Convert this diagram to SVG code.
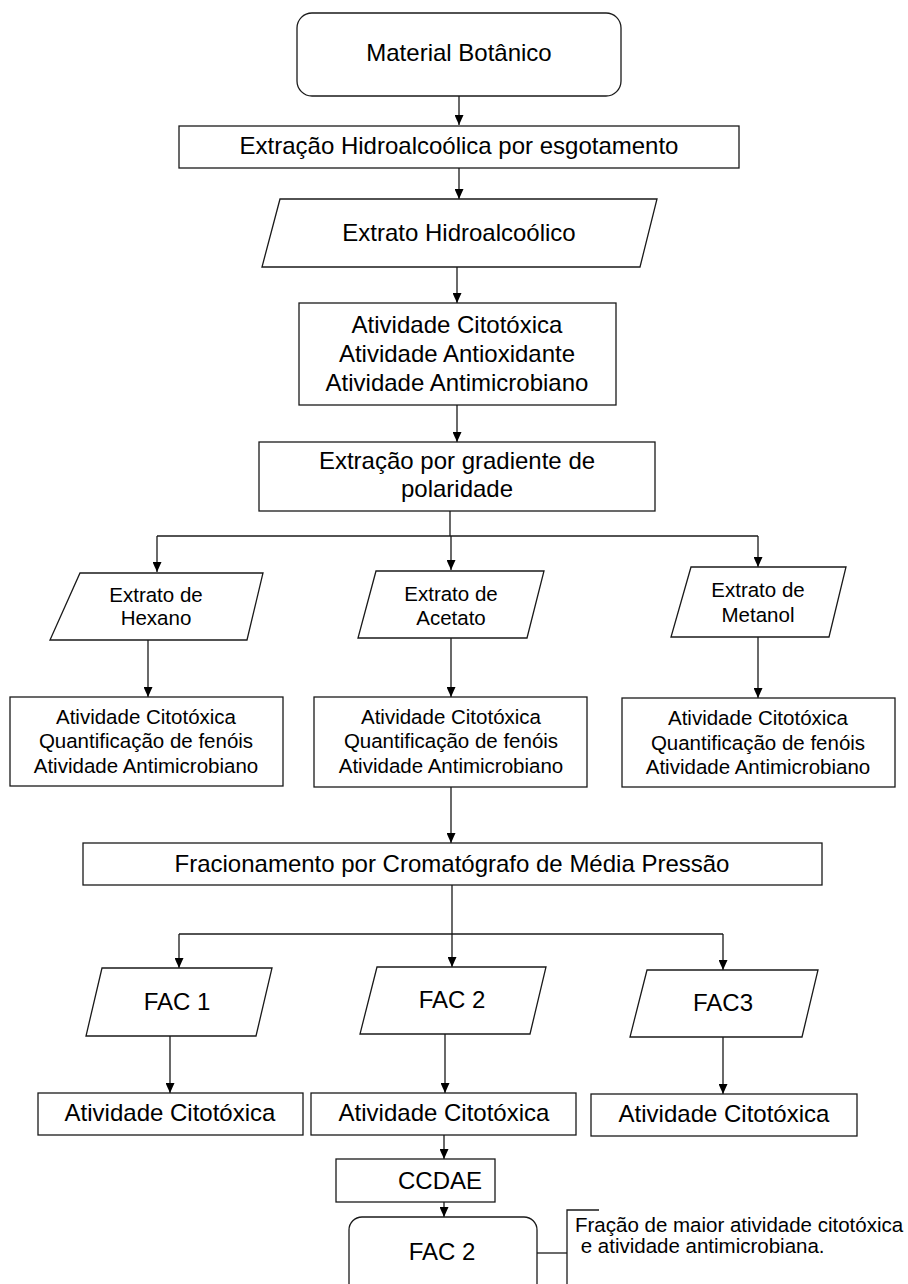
<svg xmlns="http://www.w3.org/2000/svg" width="908" height="1284" viewBox="0 0 908 1284">
<style>
.box{fill:#fff;stroke:#1a1a1a;stroke-width:1.3}
.t{font-family:"Liberation Sans",Arial,sans-serif;fill:#000;text-anchor:middle}
.L{font-size:24px}
.S{font-size:20.5px}
.con path{fill:none;stroke:#1a1a1a;stroke-width:1.3}
</style>
<defs>
<marker id="ah" markerUnits="userSpaceOnUse" markerWidth="10" markerHeight="9" refX="10" refY="4.5" orient="auto">
<path d="M0,0 L10,4.5 L0,9 z" fill="#000"/>
</marker>
</defs>
<rect width="908" height="1284" fill="#fff"/>
<g class="con">
<path d="M459,96 V125" marker-end="url(#ah)"/>
<path d="M459,168 V199" marker-end="url(#ah)"/>
<path d="M457,267 V303" marker-end="url(#ah)"/>
<path d="M457,405 V442" marker-end="url(#ah)"/>
<path d="M450,511 V536"/>
<path d="M157,536 H758"/>
<path d="M157,536 V572" marker-end="url(#ah)"/>
<path d="M451,536 V570" marker-end="url(#ah)"/>
<path d="M758,536 V567" marker-end="url(#ah)"/>
<path d="M148,640 V697" marker-end="url(#ah)"/>
<path d="M451,638 V697" marker-end="url(#ah)"/>
<path d="M758,637 V698" marker-end="url(#ah)"/>
<path d="M451,787 V843" marker-end="url(#ah)"/>
<path d="M452,885 V967" marker-end="url(#ah)"/>
<path d="M179,934 H723"/>
<path d="M179,934 V968" marker-end="url(#ah)"/>
<path d="M723,934 V970" marker-end="url(#ah)"/>
<path d="M170,1036 V1093" marker-end="url(#ah)"/>
<path d="M445,1034 V1093" marker-end="url(#ah)"/>
<path d="M723,1037 V1094" marker-end="url(#ah)"/>
<path d="M444,1135 V1159" marker-end="url(#ah)"/>
<path d="M444,1202 V1217" marker-end="url(#ah)"/>
<path d="M537,1253 H567"/>
<path d="M599,1210 H567 V1284"/>
</g>
<g id="material">
<rect class="box" x="297" y="13" width="324" height="83" rx="15"/>
<text class="t L" x="459" y="61">Material Botânico</text>
</g>
<g id="extracao-hidro">
<rect class="box" x="179" y="126" width="560" height="42"/>
<text class="t L" x="459" y="154">Extração Hidroalcoólica por esgotamento</text>
</g>
<g id="extrato-hidro">
<polygon class="box" points="280,199 657,199 640,267 262,267"/>
<text class="t L" x="459" y="241">Extrato Hidroalcoólico</text>
</g>
<g id="atividades">
<rect class="box" x="299" y="303" width="317" height="102"/>
<text class="t L" x="457" y="333">Atividade Citotóxica</text>
<text class="t L" x="457" y="362">Atividade Antioxidante</text>
<text class="t L" x="457" y="391">Atividade Antimicrobiano</text>
</g>
<g id="gradiente">
<rect class="box" x="259" y="442" width="396" height="69"/>
<text class="t L" x="457" y="469">Extração por gradiente de</text>
<text class="t L" x="457" y="497">polaridade</text>
</g>
<g id="hexano">
<polygon class="box" points="80,573 263,573 247,640 50,640"/>
<text class="t S" x="156" y="602">Extrato de</text>
<text class="t S" x="156" y="625">Hexano</text>
</g>
<g id="acetato">
<polygon class="box" points="376,571 544,571 527,638 358,638"/>
<text class="t S" x="451" y="601">Extrato de</text>
<text class="t S" x="451" y="625">Acetato</text>
</g>
<g id="metanol">
<polygon class="box" points="691,567 846,567 829,637 671,637"/>
<text class="t S" x="758" y="597">Extrato de</text>
<text class="t S" x="758" y="622">Metanol</text>
</g>
<g id="hexano-ativ">
<rect class="box" x="10" y="697" width="273" height="89"/>
<text class="t S" x="146" y="724">Atividade Citotóxica</text>
<text class="t S" x="146" y="748">Quantificação de fenóis</text>
<text class="t S" x="146" y="773">Atividade Antimicrobiano</text>
</g>
<g id="acetato-ativ">
<rect class="box" x="314" y="697" width="273" height="90"/>
<text class="t S" x="451" y="724">Atividade Citotóxica</text>
<text class="t S" x="451" y="748">Quantificação de fenóis</text>
<text class="t S" x="451" y="773">Atividade Antimicrobiano</text>
</g>
<g id="metanol-ativ">
<rect class="box" x="622" y="698" width="273" height="89"/>
<text class="t S" x="758" y="725">Atividade Citotóxica</text>
<text class="t S" x="758" y="750">Quantificação de fenóis</text>
<text class="t S" x="758" y="774">Atividade Antimicrobiano</text>
</g>
<g id="fracionamento">
<rect class="box" x="83" y="843" width="739" height="42"/>
<text class="t L" x="452" y="872">Fracionamento por Cromatógrafo de Média Pressão</text>
</g>
<g id="fac1">
<polygon class="box" points="102,968 272,968 256,1036 86,1036"/>
<text class="t L" x="177" y="1010">FAC 1</text>
</g>
<g id="fac2">
<polygon class="box" points="377,967 546,967 530,1034 360,1034"/>
<text class="t L" x="452" y="1008">FAC 2</text>
</g>
<g id="fac3">
<polygon class="box" points="647,970 818,970 802,1037 630,1037"/>
<text class="t L" x="723" y="1011">FAC3</text>
</g>
<g id="fac1-ativ">
<rect class="box" x="38" y="1093" width="265" height="42"/>
<text class="t L" x="170" y="1121">Atividade Citotóxica</text>
</g>
<g id="fac2-ativ">
<rect class="box" x="311" y="1093" width="265" height="42"/>
<text class="t L" x="444" y="1121">Atividade Citotóxica</text>
</g>
<g id="fac3-ativ">
<rect class="box" x="591" y="1094" width="266" height="42"/>
<text class="t L" x="724" y="1122">Atividade Citotóxica</text>
</g>
<g id="ccdae">
<rect class="box" x="336" y="1159" width="159" height="43"/>
<text class="t L" x="440" y="1189">CCDAE</text>
</g>
<g id="fac2-final">
<rect class="box" x="349" y="1217" width="188" height="80" rx="13"/>
<text class="t L" x="442" y="1260">FAC 2</text>
</g>
<g id="nota">
<text class="t S" x="575" y="1232" style="text-anchor:start">Fração de maior atividade citotóxica</text>
<text class="t S" x="575" y="1253" style="text-anchor:start" xml:space="preserve"> e atividade antimicrobiana.</text>
</g>
</svg>
